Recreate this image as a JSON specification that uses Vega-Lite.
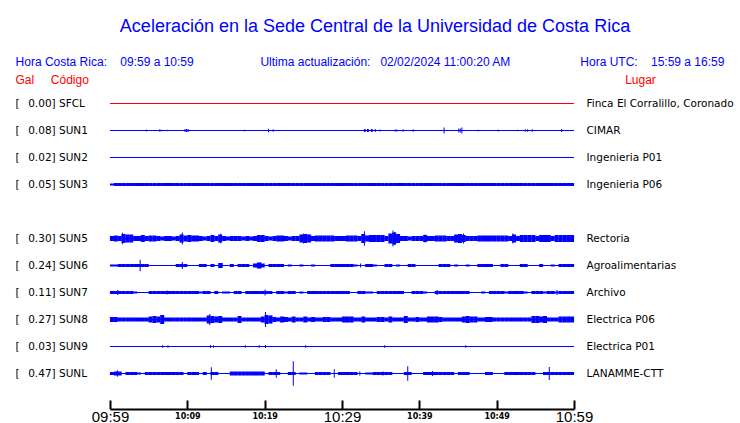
{
  "$schema": "https://vega.github.io/schema/vega-lite/v6.json",
  "width": 464,
  "height": 297,
  "autosize": {"type": "none"},
  "padding": {"left": 110, "top": 90, "right": 166, "bottom": 36},
  "background": "#ffffff",
  "config": {"view": {"stroke": null}},
  "title": {
    "text": "Aceleración en la Sede Central de la Universidad de Costa Rica",
    "subtitle": "Hora Costa Rica:\u00a0\u00a0\u00a0\u00a009:59 a 10:59\u00a0\u00a0\u00a0\u00a0\u00a0\u00a0\u00a0\u00a0\u00a0\u00a0\u00a0\u00a0\u00a0\u00a0\u00a0\u00a0\u00a0\u00a0\u00a0\u00a0Ultima actualización:\u00a0\u00a0\u00a002/02/2024 11:00:20 AM\u00a0\u00a0\u00a0\u00a0\u00a0\u00a0\u00a0\u00a0\u00a0\u00a0\u00a0\u00a0\u00a0\u00a0\u00a0\u00a0\u00a0\u00a0\u00a0\u00a0\u00a0Hora UTC:\u00a0\u00a0\u00a0\u00a015:59 a 16:59\u00a0\u00a0\u00a0\u200b",
    "anchor": "middle",
    "frame": "group",
    "dx": 33,
    "offset": 5,
    "font": "Liberation Sans",
    "fontSize": 18,
    "fontWeight": "normal",
    "color": "#0000ff",
    "subtitleFont": "Liberation Sans",
    "subtitleFontSize": 12,
    "subtitleColor": "#0000ff",
    "subtitlePadding": 21
  },
  "datasets": {
    "stations": [
      {"code": "SFCL", "gal": 0.00, "lugar": "Finca El Corralillo, Coronado", "etiqueta": "[\u2002\u00a00.00] SFCL", "estado": "sin datos"},
      {"code": "SUN1", "gal": 0.08, "lugar": "CIMAR", "etiqueta": "[\u2002\u00a00.08] SUN1", "estado": "en línea"},
      {"code": "SUN2", "gal": 0.02, "lugar": "Ingenieria P01", "etiqueta": "[\u2002\u00a00.02] SUN2", "estado": "en línea"},
      {"code": "SUN3", "gal": 0.05, "lugar": "Ingenieria P06", "etiqueta": "[\u2002\u00a00.05] SUN3", "estado": "en línea"},
      {"code": "SUN5", "gal": 0.30, "lugar": "Rectoria", "etiqueta": "[\u2002\u00a00.30] SUN5", "estado": "en línea"},
      {"code": "SUN6", "gal": 0.24, "lugar": "Agroalimentarias", "etiqueta": "[\u2002\u00a00.24] SUN6", "estado": "en línea"},
      {"code": "SUN7", "gal": 0.11, "lugar": "Archivo", "etiqueta": "[\u2002\u00a00.11] SUN7", "estado": "en línea"},
      {"code": "SUN8", "gal": 0.27, "lugar": "Electrica P06", "etiqueta": "[\u2002\u00a00.27] SUN8", "estado": "en línea"},
      {"code": "SUN9", "gal": 0.03, "lugar": "Electrica P01", "etiqueta": "[\u2002\u00a00.03] SUN9", "estado": "en línea"},
      {"code": "SUNL", "gal": 0.47, "lugar": "LANAMME-CTT", "etiqueta": "[\u2002\u00a00.47] SUNL", "estado": "en línea"}
    ],
    "env": [
      {"t":0.25,"SUN3":2,"SUN5":5,"SUN6":2,"SUN7":3,"SUN8":5,"SUNL":3},
      {"t":0.75,"SUN3":3,"SUN5":6,"SUN6":2,"SUN7":3,"SUN8":5,"SUNL":4},
      {"t":1.25,"SUN3":3,"SUN5":5,"SUN6":3,"SUN7":3,"SUN8":4,"SUNL":4},
      {"t":1.75,"SUN3":3,"SUN5":9,"SUN6":3,"SUN7":3,"SUN8":4,"SUNL":1},
      {"t":2.25,"SUN3":3,"SUN5":8,"SUN6":3,"SUN7":3,"SUN8":4,"SUNL":3},
      {"t":2.75,"SUN3":3,"SUN5":8,"SUN6":3,"SUN7":3,"SUN8":4,"SUNL":3},
      {"t":3.25,"SUN3":3,"SUN5":5,"SUN6":3,"SUN7":2,"SUN8":4,"SUNL":3},
      {"t":3.75,"SUN3":3,"SUN5":5,"SUN6":3,"SUN7":1,"SUN8":4,"SUNL":2},
      {"t":4.25,"SUN3":3,"SUN5":7,"SUN6":3,"SUN7":0,"SUN8":4,"SUNL":1},
      {"t":4.75,"SUN3":3,"SUN5":5,"SUN6":3,"SUN7":1,"SUN8":4,"SUNL":3},
      {"t":5.25,"SUN3":3,"SUN5":6,"SUN6":1,"SUN7":3,"SUN8":6,"SUNL":3},
      {"t":5.75,"SUN3":3,"SUN5":6,"SUN6":1,"SUN7":3,"SUN8":7,"SUNL":3},
      {"t":6.25,"SUN3":3,"SUN5":5,"SUN6":0,"SUN7":3,"SUN8":6,"SUNL":3},
      {"t":6.75,"SUN3":3,"SUN5":4,"SUN6":1,"SUN7":3,"SUN8":9,"SUNL":3},
      {"t":7.25,"SUN3":3,"SUN5":5,"SUN6":0,"SUN7":3,"SUN8":4,"SUNL":3},
      {"t":7.75,"SUN3":3,"SUN5":5,"SUN6":0,"SUN7":3,"SUN8":4,"SUNL":3},
      {"t":8.25,"SUN3":3,"SUN5":4,"SUN6":0,"SUN7":3,"SUN8":4,"SUNL":3},
      {"t":8.75,"SUN3":3,"SUN5":5,"SUN6":3,"SUN7":3,"SUN8":4,"SUNL":3},
      {"t":9.25,"SUN3":3,"SUN5":8,"SUN6":3,"SUN7":3,"SUN8":4,"SUNL":3},
      {"t":9.75,"SUN3":3,"SUN5":6,"SUN6":3,"SUN7":3,"SUN8":4,"SUNL":1},
      {"t":10.25,"SUN3":3,"SUN5":7,"SUN6":0,"SUN7":3,"SUN8":4,"SUNL":3},
      {"t":10.75,"SUN3":3,"SUN5":6,"SUN6":1,"SUN7":3,"SUN8":4,"SUNL":3},
      {"t":11.25,"SUN3":3,"SUN5":6,"SUN6":1,"SUN7":3,"SUN8":4,"SUNL":3},
      {"t":11.75,"SUN3":3,"SUN5":5,"SUN6":3,"SUN7":2,"SUN8":4,"SUNL":1},
      {"t":12.25,"SUN3":3,"SUN5":4,"SUN6":3,"SUN7":3,"SUN8":4,"SUNL":3},
      {"t":12.75,"SUN3":3,"SUN5":5,"SUN6":0,"SUN7":3,"SUN8":8,"SUNL":1},
      {"t":13.25,"SUN3":3,"SUN5":7,"SUN6":3,"SUN7":0,"SUN8":7,"SUNL":3},
      {"t":13.75,"SUN3":3,"SUN5":5,"SUN6":0,"SUN7":3,"SUN8":6,"SUNL":3},
      {"t":14.25,"SUN3":3,"SUN5":8,"SUN6":5,"SUN7":0,"SUN8":7,"SUNL":0},
      {"t":14.75,"SUN3":3,"SUN5":5,"SUN6":0,"SUN7":2,"SUN8":4,"SUNL":1},
      {"t":15.25,"SUN3":3,"SUN5":4,"SUN6":0,"SUN7":2,"SUN8":4,"SUNL":1},
      {"t":15.75,"SUN3":3,"SUN5":5,"SUN6":3,"SUN7":1,"SUN8":4,"SUNL":4},
      {"t":16.25,"SUN3":3,"SUN5":5,"SUN6":0,"SUN7":3,"SUN8":4,"SUNL":4},
      {"t":16.75,"SUN3":3,"SUN5":5,"SUN6":3,"SUN7":3,"SUN8":7,"SUNL":4},
      {"t":17.25,"SUN3":3,"SUN5":4,"SUN6":3,"SUN7":0,"SUN8":4,"SUNL":4},
      {"t":17.75,"SUN3":3,"SUN5":5,"SUN6":3,"SUN7":3,"SUN8":4,"SUNL":4},
      {"t":18.25,"SUN3":3,"SUN5":4,"SUN6":0,"SUN7":3,"SUN8":4,"SUNL":4},
      {"t":18.75,"SUN3":3,"SUN5":5,"SUN6":4,"SUN7":3,"SUN8":4,"SUNL":4},
      {"t":19.25,"SUN3":3,"SUN5":7,"SUN6":6,"SUN7":3,"SUN8":4,"SUNL":4},
      {"t":19.75,"SUN3":3,"SUN5":7,"SUN6":4,"SUN7":3,"SUN8":6,"SUNL":4},
      {"t":20.25,"SUN3":3,"SUN5":5,"SUN6":0,"SUN7":3,"SUN8":9,"SUNL":1},
      {"t":20.75,"SUN3":3,"SUN5":4,"SUN6":3,"SUN7":3,"SUN8":8,"SUNL":3},
      {"t":21.25,"SUN3":3,"SUN5":5,"SUN6":3,"SUN7":0,"SUN8":5,"SUNL":3},
      {"t":21.75,"SUN3":3,"SUN5":6,"SUN6":3,"SUN7":3,"SUN8":4,"SUNL":3},
      {"t":22.25,"SUN3":3,"SUN5":6,"SUN6":3,"SUN7":3,"SUN8":6,"SUNL":1},
      {"t":22.75,"SUN3":3,"SUN5":5,"SUN6":0,"SUN7":2,"SUN8":5,"SUNL":0},
      {"t":23.25,"SUN3":3,"SUN5":4,"SUN6":2,"SUN7":3,"SUN8":4,"SUNL":3},
      {"t":23.75,"SUN3":3,"SUN5":5,"SUN6":0,"SUN7":3,"SUN8":6,"SUNL":3},
      {"t":24.25,"SUN3":3,"SUN5":5,"SUN6":0,"SUN7":0,"SUN8":4,"SUNL":1},
      {"t":24.75,"SUN3":3,"SUN5":8,"SUN6":2,"SUN7":2,"SUN8":4,"SUNL":2},
      {"t":25.25,"SUN3":3,"SUN5":9,"SUN6":0,"SUN7":0,"SUN8":6,"SUNL":2},
      {"t":25.75,"SUN3":3,"SUN5":8,"SUN6":0,"SUN7":3,"SUN8":4,"SUNL":0},
      {"t":26.25,"SUN3":3,"SUN5":5,"SUN6":2,"SUN7":3,"SUN8":5,"SUNL":1},
      {"t":26.75,"SUN3":3,"SUN5":6,"SUN6":0,"SUN7":3,"SUN8":4,"SUNL":3},
      {"t":27.25,"SUN3":3,"SUN5":6,"SUN6":1,"SUN7":3,"SUN8":4,"SUNL":3},
      {"t":27.75,"SUN3":3,"SUN5":6,"SUN6":0,"SUN7":3,"SUN8":5,"SUNL":3},
      {"t":28.25,"SUN3":3,"SUN5":6,"SUN6":0,"SUN7":3,"SUN8":5,"SUNL":3},
      {"t":28.75,"SUN3":3,"SUN5":6,"SUN6":3,"SUN7":3,"SUN8":4,"SUNL":1},
      {"t":29.25,"SUN3":3,"SUN5":5,"SUN6":3,"SUN7":3,"SUN8":4,"SUNL":1},
      {"t":29.75,"SUN3":3,"SUN5":5,"SUN6":3,"SUN7":3,"SUN8":4,"SUNL":3},
      {"t":30.25,"SUN3":3,"SUN5":5,"SUN6":3,"SUN7":3,"SUN8":6,"SUNL":3},
      {"t":30.75,"SUN3":3,"SUN5":6,"SUN6":3,"SUN7":3,"SUN8":6,"SUNL":3},
      {"t":31.25,"SUN3":3,"SUN5":6,"SUN6":3,"SUN7":1,"SUN8":6,"SUNL":3},
      {"t":31.75,"SUN3":3,"SUN5":6,"SUN6":2,"SUN7":1,"SUN8":4,"SUNL":3},
      {"t":32.25,"SUN3":3,"SUN5":5,"SUN6":0,"SUN7":3,"SUN8":4,"SUNL":1},
      {"t":32.75,"SUN3":3,"SUN5":9,"SUN6":0,"SUN7":3,"SUN8":6,"SUNL":0},
      {"t":33.25,"SUN3":3,"SUN5":6,"SUN6":3,"SUN7":2,"SUN8":4,"SUNL":2},
      {"t":33.75,"SUN3":3,"SUN5":7,"SUN6":3,"SUN7":2,"SUN8":4,"SUNL":2},
      {"t":34.25,"SUN3":3,"SUN5":7,"SUN6":2,"SUN7":0,"SUN8":4,"SUNL":3},
      {"t":34.75,"SUN3":3,"SUN5":7,"SUN6":0,"SUN7":3,"SUN8":5,"SUNL":3},
      {"t":35.25,"SUN3":3,"SUN5":7,"SUN6":0,"SUN7":3,"SUN8":5,"SUNL":3},
      {"t":35.75,"SUN3":3,"SUN5":5,"SUN6":3,"SUN7":3,"SUN8":4,"SUNL":3},
      {"t":36.25,"SUN3":3,"SUN5":10,"SUN6":3,"SUN7":3,"SUN8":6,"SUNL":3},
      {"t":36.75,"SUN3":3,"SUN5":12,"SUN6":0,"SUN7":3,"SUN8":4,"SUNL":1},
      {"t":37.25,"SUN3":3,"SUN5":9,"SUN6":2,"SUN7":3,"SUN8":4,"SUNL":0},
      {"t":37.75,"SUN3":3,"SUN5":5,"SUN6":1,"SUN7":3,"SUN8":4,"SUNL":1},
      {"t":38.25,"SUN3":3,"SUN5":5,"SUN6":0,"SUN7":1,"SUN8":7,"SUNL":3},
      {"t":38.75,"SUN3":3,"SUN5":4,"SUN6":3,"SUN7":1,"SUN8":4,"SUNL":3},
      {"t":39.25,"SUN3":3,"SUN5":5,"SUN6":3,"SUN7":3,"SUN8":4,"SUNL":1},
      {"t":39.75,"SUN3":3,"SUN5":5,"SUN6":0,"SUN7":3,"SUN8":5,"SUNL":0},
      {"t":40.25,"SUN3":3,"SUN5":5,"SUN6":1,"SUN7":3,"SUN8":4,"SUNL":1},
      {"t":40.75,"SUN3":3,"SUN5":7,"SUN6":0,"SUN7":2,"SUN8":4,"SUNL":3},
      {"t":41.25,"SUN3":3,"SUN5":5,"SUN6":1,"SUN7":0,"SUN8":6,"SUNL":3},
      {"t":41.75,"SUN3":3,"SUN5":5,"SUN6":1,"SUN7":0,"SUN8":6,"SUNL":3},
      {"t":42.25,"SUN3":3,"SUN5":6,"SUN6":0,"SUN7":3,"SUN8":6,"SUNL":3},
      {"t":42.75,"SUN3":3,"SUN5":6,"SUN6":3,"SUN7":3,"SUN8":5,"SUNL":3},
      {"t":43.25,"SUN3":3,"SUN5":6,"SUN6":3,"SUN7":3,"SUN8":4,"SUNL":3},
      {"t":43.75,"SUN3":3,"SUN5":5,"SUN6":3,"SUN7":3,"SUN8":4,"SUNL":3},
      {"t":44.25,"SUN3":3,"SUN5":5,"SUN6":0,"SUN7":3,"SUN8":4,"SUNL":3},
      {"t":44.75,"SUN3":3,"SUN5":8,"SUN6":2,"SUN7":3,"SUN8":4,"SUNL":1},
      {"t":45.25,"SUN3":3,"SUN5":9,"SUN6":0,"SUN7":3,"SUN8":4,"SUNL":3},
      {"t":45.75,"SUN3":3,"SUN5":7,"SUN6":0,"SUN7":3,"SUN8":6,"SUNL":3},
      {"t":46.25,"SUN3":3,"SUN5":5,"SUN6":2,"SUN7":3,"SUN8":7,"SUNL":3},
      {"t":46.75,"SUN3":3,"SUN5":5,"SUN6":1,"SUN7":1,"SUN8":6,"SUNL":1},
      {"t":47.25,"SUN3":3,"SUN5":5,"SUN6":0,"SUN7":1,"SUN8":6,"SUNL":1},
      {"t":47.75,"SUN3":3,"SUN5":6,"SUN6":3,"SUN7":1,"SUN8":4,"SUNL":0},
      {"t":48.25,"SUN3":3,"SUN5":6,"SUN6":3,"SUN7":2,"SUN8":4,"SUNL":1},
      {"t":48.75,"SUN3":3,"SUN5":6,"SUN6":3,"SUN7":0,"SUN8":5,"SUNL":3},
      {"t":49.25,"SUN3":3,"SUN5":6,"SUN6":3,"SUN7":3,"SUN8":5,"SUNL":3},
      {"t":49.75,"SUN3":3,"SUN5":6,"SUN6":0,"SUN7":3,"SUN8":4,"SUNL":1},
      {"t":50.25,"SUN3":3,"SUN5":6,"SUN6":0,"SUN7":3,"SUN8":4,"SUNL":1},
      {"t":50.75,"SUN3":3,"SUN5":6,"SUN6":3,"SUN7":3,"SUN8":4,"SUNL":0},
      {"t":51.25,"SUN3":3,"SUN5":6,"SUN6":3,"SUN7":2,"SUN8":4,"SUNL":3},
      {"t":51.75,"SUN3":3,"SUN5":5,"SUN6":0,"SUN7":3,"SUN8":4,"SUNL":3},
      {"t":52.25,"SUN3":3,"SUN5":8,"SUN6":1,"SUN7":3,"SUN8":4,"SUNL":3},
      {"t":52.75,"SUN3":3,"SUN5":5,"SUN6":0,"SUN7":3,"SUN8":4,"SUNL":3},
      {"t":53.25,"SUN3":3,"SUN5":7,"SUN6":3,"SUN7":3,"SUN8":4,"SUNL":3},
      {"t":53.75,"SUN3":3,"SUN5":7,"SUN6":3,"SUN7":2,"SUN8":4,"SUNL":3},
      {"t":54.25,"SUN3":3,"SUN5":7,"SUN6":0,"SUN7":0,"SUN8":4,"SUNL":3},
      {"t":54.75,"SUN3":3,"SUN5":7,"SUN6":1,"SUN7":3,"SUN8":7,"SUNL":3},
      {"t":55.25,"SUN3":3,"SUN5":5,"SUN6":0,"SUN7":3,"SUN8":7,"SUNL":1},
      {"t":55.75,"SUN3":3,"SUN5":7,"SUN6":3,"SUN7":3,"SUN8":6,"SUNL":1},
      {"t":56.25,"SUN3":3,"SUN5":7,"SUN6":0,"SUN7":2,"SUN8":7,"SUNL":3},
      {"t":56.75,"SUN3":3,"SUN5":7,"SUN6":0,"SUN7":3,"SUN8":4,"SUNL":3},
      {"t":57.25,"SUN3":3,"SUN5":5,"SUN6":2,"SUN7":3,"SUN8":4,"SUNL":3},
      {"t":57.75,"SUN3":3,"SUN5":7,"SUN6":0,"SUN7":2,"SUN8":4,"SUNL":3},
      {"t":58.25,"SUN3":3,"SUN5":7,"SUN6":3,"SUN7":3,"SUN8":6,"SUNL":3},
      {"t":58.75,"SUN3":3,"SUN5":7,"SUN6":3,"SUN7":3,"SUN8":6,"SUNL":3},
      {"t":59.25,"SUN3":3,"SUN5":7,"SUN6":3,"SUN7":3,"SUN8":6,"SUNL":3},
      {"t":59.75,"SUN3":3,"SUN5":7,"SUN6":3,"SUN7":3,"SUN8":6,"SUNL":3}
    ],
    "spikes": [
      {"code":"SUN1","t":4.7,"amp":2},{"code":"SUN1","t":6.4,"amp":2},{"code":"SUN1","t":6.6,"amp":2},
      {"code":"SUN1","t":7.4,"amp":1.5},{"code":"SUN1","t":9.7,"amp":3},{"code":"SUN1","t":9.9,"amp":3},
      {"code":"SUN1","t":10.1,"amp":3},{"code":"SUN1","t":17.4,"amp":1.5},{"code":"SUN1","t":20.5,"amp":3.5},
      {"code":"SUN1","t":21.1,"amp":2.5},{"code":"SUN1","t":32.9,"amp":3},{"code":"SUN1","t":33.0,"amp":3},
      {"code":"SUN1","t":33.3,"amp":3},{"code":"SUN1","t":33.4,"amp":3},{"code":"SUN1","t":33.8,"amp":3},
      {"code":"SUN1","t":33.9,"amp":3},{"code":"SUN1","t":34.3,"amp":3},{"code":"SUN1","t":34.9,"amp":2},
      {"code":"SUN1","t":36.9,"amp":2},{"code":"SUN1","t":37.1,"amp":2},{"code":"SUN1","t":37.9,"amp":2.5},
      {"code":"SUN1","t":39.2,"amp":2.5},{"code":"SUN1","t":43.2,"amp":6},{"code":"SUN1","t":45.1,"amp":4},
      {"code":"SUN1","t":45.3,"amp":4},{"code":"SUN1","t":45.5,"amp":6},{"code":"SUN1","t":47.6,"amp":1.5},
      {"code":"SUN1","t":50.2,"amp":2},{"code":"SUN1","t":52.7,"amp":1.5},{"code":"SUN1","t":53.7,"amp":2.5},
      {"code":"SUN1","t":54.0,"amp":2.5},{"code":"SUN1","t":54.6,"amp":2.5},{"code":"SUN1","t":58.4,"amp":3},
      {"code":"SUN9","t":6.8,"amp":2.5},{"code":"SUN9","t":7.5,"amp":2.5},{"code":"SUN9","t":13.0,"amp":3},
      {"code":"SUN9","t":13.4,"amp":2.5},{"code":"SUN9","t":17.5,"amp":2.5},{"code":"SUN9","t":19.3,"amp":2.5},
      {"code":"SUN9","t":20.1,"amp":3},{"code":"SUN9","t":25.3,"amp":2.5},{"code":"SUN9","t":35.5,"amp":2.5},
      {"code":"SUN9","t":46.0,"amp":2.5},
      {"code":"SUN5","t":1.6,"amp":11.7},{"code":"SUN5","t":9.35,"amp":12},{"code":"SUN5","t":14.3,"amp":9.3},
      {"code":"SUN5","t":25.0,"amp":10},{"code":"SUN5","t":25.3,"amp":9},{"code":"SUN5","t":32.9,"amp":14.7},
      {"code":"SUN5","t":36.6,"amp":16},{"code":"SUN5","t":36.8,"amp":13},{"code":"SUN5","t":40.75,"amp":8},
      {"code":"SUN5","t":45.7,"amp":10},{"code":"SUN5","t":52.1,"amp":10},
      {"code":"SUN6","t":3.9,"amp":11.7},{"code":"SUN6","t":9.35,"amp":7},{"code":"SUN6","t":14.5,"amp":5},
      {"code":"SUN6","t":19.5,"amp":6.3},{"code":"SUN6","t":32.4,"amp":4},
      {"code":"SUN7","t":1.0,"amp":5},{"code":"SUN7","t":7.4,"amp":4},{"code":"SUN7","t":20.05,"amp":6},
      {"code":"SUN7","t":42.3,"amp":5},{"code":"SUN7","t":57.8,"amp":5},
      {"code":"SUN8","t":6.7,"amp":9},{"code":"SUN8","t":12.9,"amp":11},{"code":"SUN8","t":20.1,"amp":15},
      {"code":"SUN8","t":20.9,"amp":8},{"code":"SUN8","t":38.1,"amp":7},
      {"code":"SUNL","t":0.95,"amp":6.7},{"code":"SUNL","t":13.1,"amp":12.7},{"code":"SUNL","t":21.5,"amp":8.3},
      {"code":"SUNL","t":23.7,"amp":24.7},{"code":"SUNL","t":29.0,"amp":8.3},{"code":"SUNL","t":32.3,"amp":4},
      {"code":"SUNL","t":35.3,"amp":4},{"code":"SUNL","t":38.5,"amp":14.7},{"code":"SUNL","t":41.7,"amp":5},
      {"code":"SUNL","t":56.8,"amp":13}
    ]
  },
  "resolve": {"scale": {"y": "independent"}},
  "layer": [
    {
      "layer": [
        {
          "data": {"name": "env"},
          "transform": [
            {"fold": ["SUN3", "SUN5", "SUN6", "SUN7", "SUN8", "SUNL"], "as": ["code", "amp"]},
            {"lookup": "code", "from": {"data": {"name": "stations"}, "key": "code", "fields": ["etiqueta"]}}
          ],
          "mark": {"type": "tick", "thickness": 4, "color": "#0000ff", "opacity": 1},
          "encoding": {
            "x": {
              "field": "t", "type": "quantitative",
              "scale": {"domain": [0, 60], "nice": false, "zero": false},
              "axis": {
                "orient": "bottom", "offset": 22, "title": null, "grid": false,
                "domain": true, "ticks": true,
                "values": [0, 5, 10, 15, 20, 25, 30, 35, 40, 45, 50, 55, 60],
                "labelExpr": "datum.value % 10 === 0 ? timeFormat(datetime(2024, 1, 2, 9, 59 + datum.value), '%H:%M') : ''",
                "domainColor": "#000000", "domainWidth": 2, "domainOpacity": 1,
                "tickColor": "#000000", "tickWidth": 2, "tickSize": -9, "tickOpacity": 1,
                "labelColor": "#000000",
                "labelFont": {"condition": {"test": "datum.value % 30 === 0", "value": "Liberation Sans"}, "value": "DejaVu Sans"},
                "labelFontSize": {"condition": {"test": "datum.value % 30 === 0", "value": 15}, "value": 8},
                "labelFontWeight": {"condition": {"test": "datum.value % 30 === 0", "value": "normal"}, "value": "bold"},
                "labelBaseline": "middle", "labelPadding": 16,
                "labelOverlap": false, "labelFlush": false, "labelBound": false
              }
            },
            "y": {
              "field": "etiqueta", "type": "nominal",
              "scale": {
                "type": "band", "paddingInner": 0, "paddingOuter": 0,
                "domain": ["[\u2002\u00a00.00] SFCL", "[\u2002\u00a00.08] SUN1", "[\u2002\u00a00.02] SUN2", "[\u2002\u00a00.05] SUN3", "\u2003", "[\u2002\u00a00.30] SUN5", "[\u2002\u00a00.24] SUN6", "[\u2002\u00a00.11] SUN7", "[\u2002\u00a00.27] SUN8", "[\u2002\u00a00.03] SUN9", "[\u2002\u00a00.47] SUNL"]
              },
              "axis": {
                "orient": "left", "domain": false, "ticks": false, "grid": false,
                "labelAlign": "left", "labelBaseline": "middle", "labelPadding": 95,
                "labelFont": "DejaVu Sans", "labelFontSize": 10.5, "labelColor": "#000000", "labelLimit": 300,
                "title": "Gal\u00a0\u00a0\u00a0\u00a0\u00a0Código", "titleAngle": 0, "titleAlign": "left", "titleBaseline": "middle",
                "titleX": -95, "titleY": -11, "titleFont": "Liberation Sans", "titleFontSize": 12,
                "titleFontWeight": "normal", "titleColor": "#ff0000"
              }
            },
            "size": {"field": "amp", "type": "quantitative", "scale": {"domain": [0, 30], "range": [0, 30]}, "legend": null}
          }
        },
        {
          "data": {"name": "spikes"},
          "transform": [
            {"lookup": "code", "from": {"data": {"name": "stations"}, "key": "code", "fields": ["etiqueta"]}}
          ],
          "mark": {"type": "tick", "thickness": 1, "color": "#0000ff", "opacity": 1},
          "encoding": {
            "x": {"field": "t", "type": "quantitative"},
            "y": {"field": "etiqueta", "type": "nominal"},
            "size": {"field": "amp", "type": "quantitative", "legend": null}
          }
        }
      ]
    },
    {
      "data": {"name": "stations"},
      "mark": {"type": "rule", "strokeWidth": 1},
      "encoding": {
        "y": {
          "field": "lugar", "type": "nominal",
          "scale": {
            "type": "point", "padding": 0.5,
            "domain": ["Finca El Corralillo, Coronado", "CIMAR", "Ingenieria P01", "Ingenieria P06", "\u2003", "Rectoria", "Agroalimentarias", "Archivo", "Electrica P06", "Electrica P01", "LANAMME-CTT"]
          },
          "axis": {
            "orient": "right", "domain": false, "ticks": false, "grid": false,
            "labelAlign": "left", "labelBaseline": "middle", "labelPadding": 12,
            "labelFont": "DejaVu Sans", "labelFontSize": 10.5, "labelColor": "#000000", "labelLimit": 300,
            "title": "Lugar", "titleAngle": 0, "titleAlign": "center", "titleBaseline": "middle",
            "titleX": 66, "titleY": -11, "titleFont": "Liberation Sans", "titleFontSize": 12,
            "titleFontWeight": "normal", "titleColor": "#ff0000"
          }
        },
        "color": {
          "field": "estado", "type": "nominal",
          "scale": {"domain": ["en línea", "sin datos"], "range": ["#0000ff", "#ff0000"]},
          "legend": null
        }
      }
    }
  ]
}
